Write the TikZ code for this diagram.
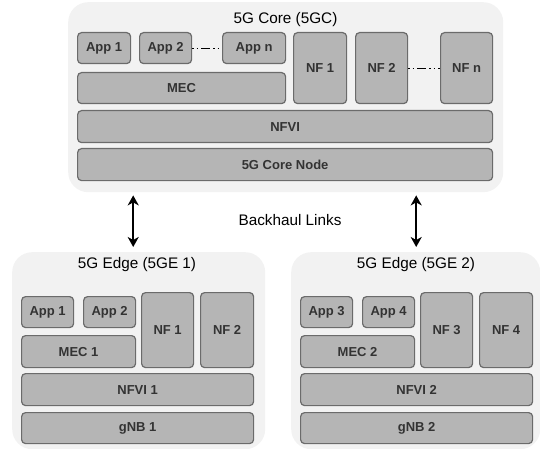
\documentclass[tikz,border=0pt]{standalone}
\usepackage{fontspec}
\setmainfont{Liberation Sans}
\usetikzlibrary{arrows.meta}
\definecolor{zonefill}{HTML}{F2F2F2}
\definecolor{boxfill}{HTML}{B5B5B5}
\definecolor{boxline}{HTML}{6B6B6B}
\definecolor{boxtext}{HTML}{333333}
\tikzset{
  zone/.style={fill=zonefill, draw=none, rounded corners=20pt, anchor=north west, inner sep=0pt},
  zonetitle/.style={font=\fontsize{15.3}{18}\selectfont, text=black},
  box/.style={fill=boxfill, draw=boxline, line width=1.2pt, rounded corners=4pt,
    anchor=north west, inner sep=0pt, font=\bfseries\fontsize{13}{15}\selectfont, text=boxtext},
  link/.style={line width=1.8pt, {Stealth[length=10pt,width=11pt,inset=3pt]}-{Stealth[length=10pt,width=11pt,inset=3pt]}},
  gapline/.style={line width=1pt, dash pattern=on 1.5pt off 3pt on 1.5pt off 3pt on 9pt off 3pt}
}
\begin{document}
\begin{tikzpicture}[x=1pt, y=-1pt]
\useasboundingbox (0,0) rectangle (540,449);

% ---- 5G core ----
\node[zone, minimum width=435pt, minimum height=190pt] (core) at (68,2) {};
\node[zonetitle] (coretitle) at (285.5,20) {5G Core (5GC)};
\node[box, minimum width=53pt, minimum height=31pt] (capp1) at (77,32) {App 1};
\node[box, minimum width=52pt, minimum height=31pt] (capp2) at (139,32) {App 2};
\node[box, minimum width=63pt, minimum height=31pt] (cappn) at (222,32) {App n};
\node[box, minimum width=208pt, minimum height=31pt] (cmec) at (77,72) {MEC};
\node[box, minimum width=53pt, minimum height=71pt] (cnf1) at (293,32) {NF 1};
\node[box, minimum width=52pt, minimum height=71pt] (cnf2) at (355,32) {NF 2};
\node[box, minimum width=52pt, minimum height=71pt] (cnfn) at (440,32) {NF n};
\node[box, minimum width=415pt, minimum height=32pt] (cnfvi) at (77,110) {NFVI};
\node[box, minimum width=415pt, minimum height=32pt] (cnode) at (77,148) {5G Core Node};
\draw[gapline] (capp2.east) -- (cappn.west);
\draw[gapline] (cnf2.east) -- (cnfn.west);

% ---- 5G edge 1 ----
\node[zone, minimum width=253pt, minimum height=197pt] (edge1) at (12,252) {};
\node[zonetitle] (e1title) at (137,265) {5G Edge (5GE 1)};
\node[box, minimum width=52pt, minimum height=31pt] (e1app1) at (21,296) {App 1};
\node[box, minimum width=52pt, minimum height=31pt] (e1app2) at (83,296) {App 2};
\node[box, minimum width=114pt, minimum height=32pt] (e1mec) at (21,335) {MEC 1};
\node[box, minimum width=52pt, minimum height=75pt] (e1nf1) at (141,292) {NF 1};
\node[box, minimum width=53pt, minimum height=75pt] (e1nf2) at (200,292) {NF 2};
\node[box, minimum width=232pt, minimum height=32pt] (e1nfvi) at (21,373) {NFVI 1};
\node[box, minimum width=232pt, minimum height=31pt] (e1gnb) at (21,412) {gNB 1};

% ---- 5G edge 2 ----
\node[zone, minimum width=249pt, minimum height=197pt] (edge2) at (291,252) {};
\node[zonetitle] (e2title) at (416,265) {5G Edge (5GE 2)};
\node[box, minimum width=52pt, minimum height=31pt] (e2app3) at (300,296) {App 3};
\node[box, minimum width=52pt, minimum height=31pt] (e2app4) at (362,296) {App 4};
\node[box, minimum width=114pt, minimum height=32pt] (e2mec) at (300,335) {MEC 2};
\node[box, minimum width=52pt, minimum height=75pt] (e2nf3) at (420,292) {NF 3};
\node[box, minimum width=53pt, minimum height=75pt] (e2nf4) at (479,292) {NF 4};
\node[box, minimum width=232pt, minimum height=32pt] (e2nfvi) at (300,373) {NFVI 2};
\node[box, minimum width=232pt, minimum height=31pt] (e2gnb) at (300,412) {gNB 2};

% ---- backhaul links ----
\node[zonetitle] (backhaul) at (290,220) {Backhaul Links};
\draw[link, shorten <=3pt, shorten >=5pt]
  ([xshift=-5.5pt]edge1.north |- core.south) -- ([xshift=-5.5pt]edge1.north);
\draw[link, shorten <=3pt, shorten >=5pt]
  ([xshift=0.5pt]edge2.north |- core.south) -- ([xshift=0.5pt]edge2.north);
\end{tikzpicture}
\end{document}
